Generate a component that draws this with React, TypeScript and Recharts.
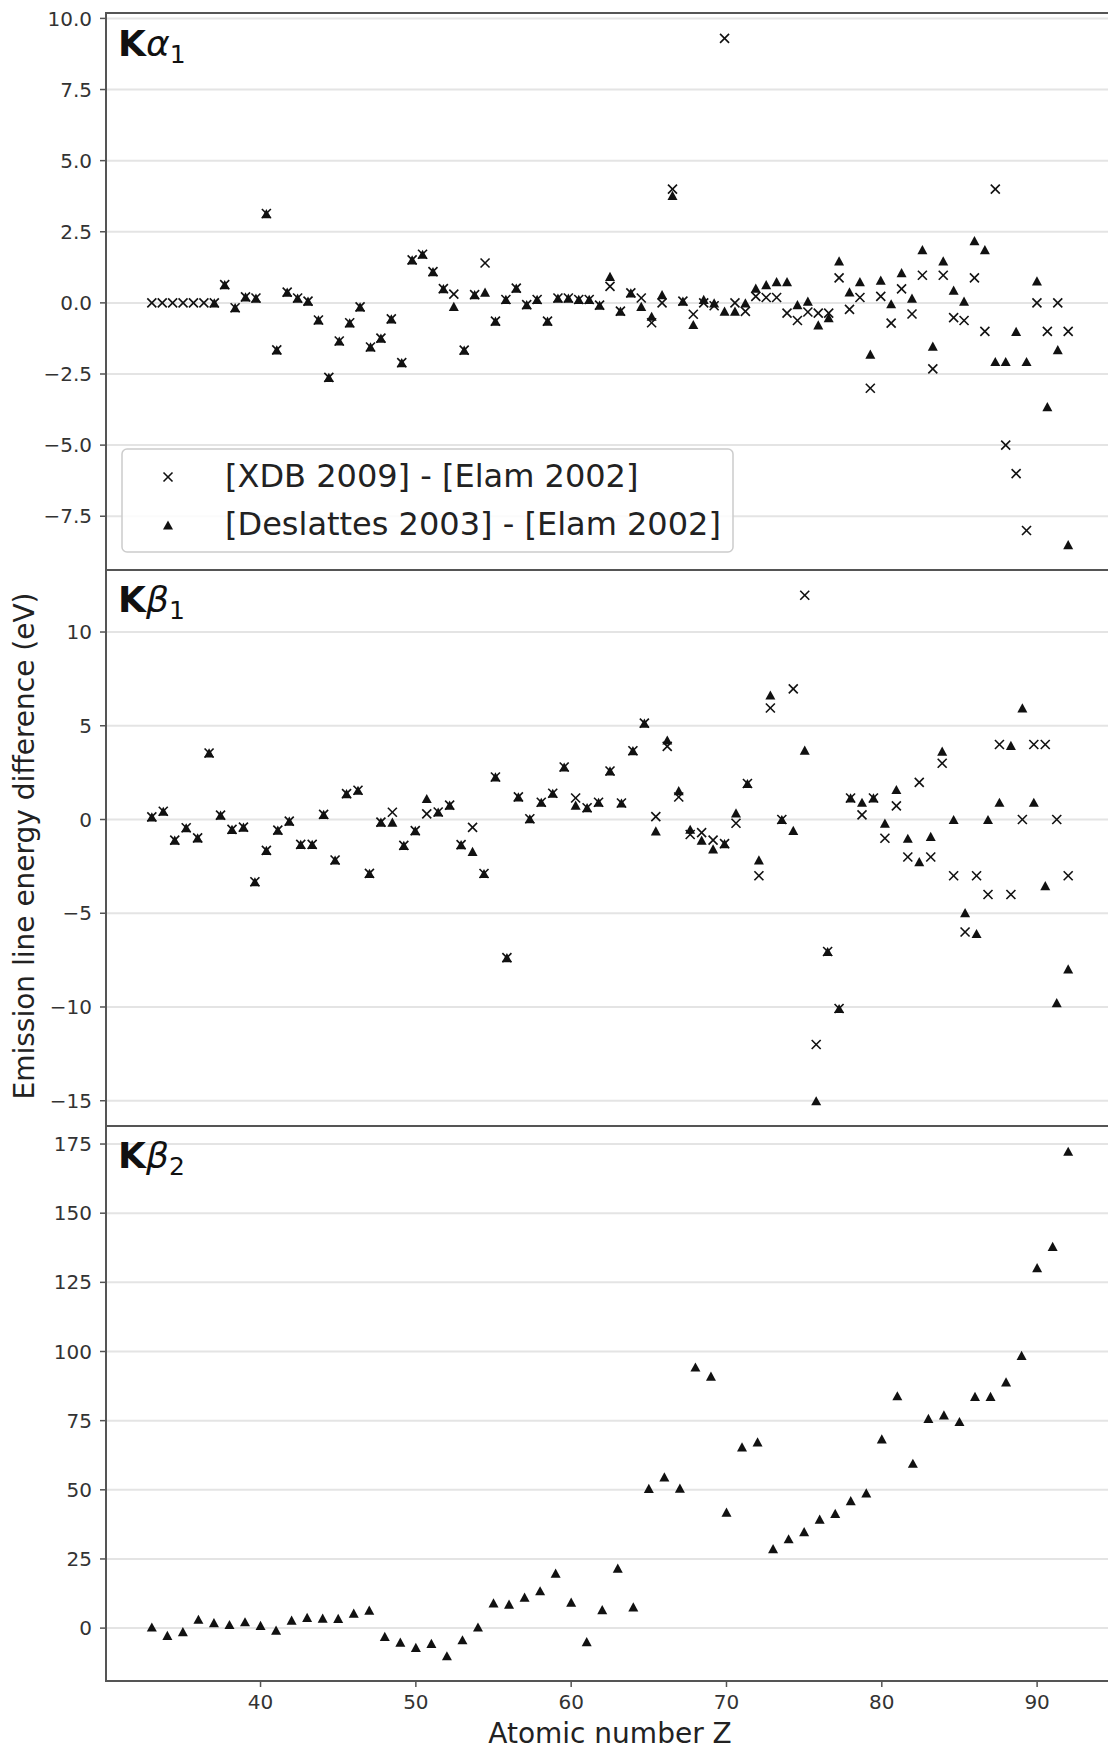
import React from 'react';
import { ScatterChart, Scatter, XAxis, YAxis, CartesianGrid } from 'recharts';

const FONT = "'DejaVu Sans', Verdana, sans-serif";
const INK = '#111111';
const SPINE = '#555555';
const GRID = '#e4e4e4';
const TICK_TEXT = '#333333';

// ---------- K alpha 1 ----------
const ka1XdbZ = [4, 5, 6, 7, 8, 9, 10, 11, 12, 13, 14, 15, 16, 17, 18, 19, 20, 21, 22, 23, 24, 25, 26, 27, 28, 29, 30, 31, 32, 33, 34, 35, 36, 37, 38, 39, 40, 41, 42, 43, 44, 45, 46, 47, 48, 49, 50, 51, 52, 53, 54, 55, 56, 57, 58, 59, 60, 61, 62, 63, 64, 65, 66, 67, 68, 69, 70, 71, 72, 73, 74, 75, 76, 77, 78, 79, 80, 81, 82, 83, 84, 85, 86, 87, 88, 89, 90, 91, 92];
const ka1XdbDiff = [0, 0, 0, 0, 0, 0, 0, 0.64, -0.17, 0.21, 0.17, 3.14, -1.65, 0.38, 0.17, 0.06, -0.6, -2.62, -1.34, -0.7, -0.14, -1.55, -1.24, -0.56, -2.1, 1.51, 1.71, 1.1, 0.5, 0.31, -1.66, 0.29, 1.4, -0.64, 0.12, 0.52, -0.06, 0.12, -0.64, 0.17, 0.17, 0.12, 0.12, -0.08, 0.58, -0.29, 0.35, 0.17, -0.7, 0.0, 4.0, 0.06, -0.4, 0.0, -0.1, 9.3, 0.0, -0.3, 0.23, 0.19, 0.19, -0.36, -0.62, -0.32, -0.36, -0.36, 0.88, -0.23, 0.19, -3.0, 0.23, -0.71, 0.49, -0.39, 0.97, -2.32, 0.97, -0.52, -0.62, 0.88, -1.0, 4.0, -5.0, -6.0, -8.0, 0.0, -1.0, 0.0, -1.0];
const ka1DesZ = [10, 11, 12, 13, 14, 15, 16, 17, 18, 19, 20, 21, 22, 23, 24, 25, 26, 27, 28, 29, 30, 31, 32, 33, 34, 35, 36, 37, 38, 39, 40, 41, 42, 43, 44, 45, 46, 47, 48, 49, 50, 51, 52, 53, 54, 55, 56, 57, 58, 59, 60, 61, 62, 63, 64, 65, 66, 67, 68, 69, 70, 71, 72, 73, 74, 75, 76, 77, 78, 79, 80, 81, 82, 83, 84, 85, 86, 87, 88, 89, 90, 91, 92];
const ka1DesDiff = [0, 0.64, -0.17, 0.21, 0.17, 3.14, -1.65, 0.38, 0.17, 0.06, -0.6, -2.62, -1.34, -0.7, -0.14, -1.55, -1.24, -0.56, -2.1, 1.51, 1.71, 1.1, 0.5, -0.12, -1.66, 0.29, 0.38, -0.64, 0.12, 0.52, -0.06, 0.12, -0.64, 0.17, 0.17, 0.12, 0.12, -0.08, 0.93, -0.29, 0.35, -0.12, -0.47, 0.29, 3.78, 0.06, -0.76, 0.12, 0.0, -0.29, -0.29, 0.0, 0.52, 0.64, 0.75, 0.75, -0.06, 0.06, -0.77, -0.52, 1.48, 0.39, 0.75, -1.8, 0.8, -0.03, 1.06, 0.17, 1.87, -1.52, 1.48, 0.45, 0.06, 2.19, 1.87, -2.06, -2.06, -1.0, -2.06, 0.77, -3.65, -1.64, -8.5];
const ka1Ticks = [-7.5, -5, -2.5, 0, 2.5, 5, 7.5, 10];

// ---------- K beta 1 ----------
const kb1Z = [12, 13, 14, 15, 16, 17, 18, 19, 20, 21, 22, 23, 24, 25, 26, 27, 28, 29, 30, 31, 32, 33, 34, 35, 36, 37, 38, 39, 40, 41, 42, 43, 44, 45, 46, 47, 48, 49, 50, 51, 52, 53, 54, 55, 56, 57, 58, 59, 60, 61, 62, 63, 64, 65, 66, 67, 68, 69, 70, 71, 72, 73, 74, 75, 76, 77, 78, 79, 80, 81, 82, 83, 84, 85, 86, 87, 88, 89, 90, 91, 92];
const kb1XdbDiff = [0.14, 0.44, -1.1, -0.44, -0.98, 3.55, 0.23, -0.53, -0.41, -3.32, -1.65, -0.57, -0.09, -1.33, -1.33, 0.27, -2.16, 1.38, 1.56, -2.87, -0.14, 0.39, -1.38, -0.59, 0.3, 0.4, 0.77, -1.34, -0.42, -2.88, 2.27, -7.37, 1.21, 0.04, 0.92, 1.4, 2.8, 1.15, 0.63, 0.92, 2.59, 0.88, 3.67, 5.14, 0.15, 3.9, 1.2, -0.8, -0.7, -1.1, -1.29, -0.2, 1.92, -3.0, 5.95, 0.0, 6.97, 11.96, -12.0, -7.04, -10.08, 1.15, 0.25, 1.15, -1.0, 0.73, -2.0, 1.98, -2.0, 3.0, -3.0, -6.0, -3.0, -4.0, 4.0, -4.0, 0.0, 4.0, 4.0, 0.0, -3.0];
const kb1DesDiff = [0.14, 0.44, -1.1, -0.44, -0.98, 3.55, 0.23, -0.53, -0.41, -3.32, -1.65, -0.57, -0.09, -1.33, -1.33, 0.27, -2.16, 1.38, 1.56, -2.87, -0.14, -0.14, -1.38, -0.59, 1.12, 0.4, 0.77, -1.34, -1.7, -2.88, 2.27, -7.37, 1.21, 0.04, 0.92, 1.4, 2.8, 0.77, 0.63, 0.92, 2.59, 0.88, 3.67, 5.14, -0.61, 4.24, 1.54, -0.52, -1.1, -1.57, -1.29, 0.35, 1.92, -2.15, 6.64, 0.0, -0.58, 3.7, -15.0, -7.04, -10.08, 1.15, 0.92, 1.15, -0.19, 1.6, -1.0, -2.25, -0.9, 3.65, 0.0, -4.97, -6.08, 0.0, 0.92, 3.95, 5.95, 0.92, -3.53, -9.77, -7.97];
const kb1Ticks = [-15, -10, -5, 0, 5, 10];

// ---------- K beta 2 ----------
const kb2Z = [33, 34, 35, 36, 37, 38, 39, 40, 41, 42, 43, 44, 45, 46, 47, 48, 49, 50, 51, 52, 53, 54, 55, 56, 57, 58, 59, 60, 61, 62, 63, 64, 65, 66, 67, 68, 69, 70, 71, 72, 73, 74, 75, 76, 77, 78, 79, 80, 81, 82, 83, 84, 85, 86, 87, 88, 89, 90, 91, 92];
const kb2DesDiff = [0.4, -2.6, -1.3, 3.2, 2.0, 1.3, 2.3, 1.0, -0.7, 2.9, 3.9, 3.6, 3.5, 5.4, 6.5, -3.0, -5.1, -7.0, -5.5, -10.0, -4.2, 0.4, 9.1, 8.7, 11.2, 13.5, 19.9, 9.4, -4.9, 6.7, 21.7, 7.7, 50.5, 54.7, 50.6, 94.4, 91.1, 41.9, 65.5, 67.3, 28.7, 32.3, 34.9, 39.4, 41.5, 46.1, 48.9, 68.4, 84.0, 59.6, 75.8, 77.1, 74.7, 83.8, 83.8, 89.0, 98.6, 130.3, 138.0, 172.4];
const kb2Ticks = [0, 25, 50, 75, 100, 125, 150, 175];

const zTicks = [40, 50, 60, 70, 80, 90];

const seriesXdb = '[XDB 2009] - [Elam 2002]';
const seriesDes = '[Deslattes 2003] - [Elam 2002]';

// ---------- helpers ----------
function pad(values: number[]): [number, number] {
  const lo = Math.min(...values);
  const hi = Math.max(...values);
  const m = (hi - lo) * 0.05;
  return [lo - m, hi + m];
}
const toPts = (zs: number[], vs: number[]) => zs.map((z, i) => ({ z, v: vs[i] }));
const fmt1 = (v: number) => (v < 0 ? '\u2212' : '') + Math.abs(v).toFixed(1);
const fmt0 = (v: number) => (v < 0 ? '\u2212' : '') + String(Math.abs(v));

const XMark = (p: any) => {
  const { cx, cy } = p;
  if (cx == null || cy == null) return null;
  const r = 4.5;
  return (
    <g>
      <line x1={cx - r} y1={cy - r} x2={cx + r} y2={cy + r} stroke={INK} strokeWidth={1.6} />
      <line x1={cx - r} y1={cy + r} x2={cx + r} y2={cy - r} stroke={INK} strokeWidth={1.6} />
    </g>
  );
};
const TriMark = (p: any) => {
  const { cx, cy } = p;
  if (cx == null || cy == null) return null;
  const w = 5;
  const h = 4.6;
  return <path d={`M${cx},${cy - h} L${cx + w},${cy + h} L${cx - w},${cy + h} Z`} fill={INK} />;
};

const CHART_W = 1118;
const AXIS_W = 106;
const X_AXIS_H = 70;

type Series = { name: string; data: { z: number; v: number }[]; kind: 'x' | 'tri' };

function Panel(props: {
  top: number;
  padTop: number;
  plotH: number;
  xDomain: [number, number];
  yDomain: [number, number];
  yTicks: number[];
  fmt: (v: number) => string;
  series: Series[];
  showX: boolean;
}) {
  const { top, padTop, plotH, xDomain, yDomain, yTicks, fmt, series, showX } = props;
  const h = padTop + plotH + (showX ? X_AXIS_H : 0);
  const tickStyle = { fontSize: 20, fill: TICK_TEXT, fontFamily: FONT };
  return (
    <div style={{ position: 'absolute', left: 0, top: top - padTop, width: CHART_W, height: h }}>
      <ScatterChart width={CHART_W} height={h} margin={{ top: padTop, right: 4, bottom: 0, left: 0 }}>
        <CartesianGrid horizontal vertical={false} stroke={GRID} strokeWidth={2} />
        <XAxis
          type="number"
          dataKey="z"
          domain={xDomain}
          allowDataOverflow
          hide={!showX}
          ticks={zTicks}
          interval={0}
          height={X_AXIS_H}
          tickSize={6}
          tickMargin={8}
          tick={tickStyle}
          axisLine={false}
          tickLine={{ stroke: SPINE, strokeWidth: 1.5 }}
        />
        <YAxis
          type="number"
          dataKey="v"
          domain={yDomain}
          allowDataOverflow
          ticks={yTicks}
          interval={0}
          width={AXIS_W}
          tickSize={6}
          tickMargin={8}
          tickFormatter={fmt}
          tick={tickStyle}
          axisLine={false}
          tickLine={{ stroke: SPINE, strokeWidth: 1.5 }}
        />
        {series.map((s) => (
          <Scatter
            key={s.name}
            name={s.name}
            data={s.data}
            isAnimationActive={false}
            shape={(sp: any) => (s.kind === 'x' ? <XMark {...sp} /> : <TriMark {...sp} />)}
          />
        ))}
      </ScatterChart>
      <div
        style={{
          position: 'absolute',
          left: AXIS_W - 1,
          top: padTop - 1,
          width: 1114 - AXIS_W + 2,
          height: plotH + 2,
          border: `2px solid ${SPINE}`,
          boxSizing: 'border-box',
          pointerEvents: 'none',
        }}
      />
    </div>
  );
}

const PanelLabel = ({ y, greek, sub }: { y: number; greek: string; sub: string }) => (
  <text x={118} y={y} fontSize={36} fontFamily={FONT} fill={INK}>
    <tspan fontWeight="bold">K</tspan>
    <tspan fontStyle="italic">{greek}</tspan>
    <tspan fontSize={25} dy={7}>{sub}</tspan>
  </text>
);

export default function App() {
  const ka1Series: Series[] = [
    { name: seriesXdb, data: toPts(ka1XdbZ, ka1XdbDiff), kind: 'x' },
    { name: seriesDes, data: toPts(ka1DesZ, ka1DesDiff), kind: 'tri' },
  ];
  const kb1Series: Series[] = [
    { name: seriesXdb, data: toPts(kb1Z, kb1XdbDiff), kind: 'x' },
    { name: seriesDes, data: toPts(kb1Z, kb1DesDiff), kind: 'tri' },
  ];
  const kb2Series: Series[] = [{ name: seriesDes, data: toPts(kb2Z, kb2DesDiff), kind: 'tri' }];

  return (
    <div
      style={{
        position: 'absolute',
        left: 0,
        top: 0,
        width: 1108,
        height: 1751,
        overflow: 'hidden',
        background: '#ffffff',
        fontFamily: FONT,
      }}
    >
      <Panel
        top={13}
        padTop={13}
        plotH={557}
        xDomain={pad([...ka1XdbZ, ...ka1DesZ])}
        yDomain={pad([...ka1XdbDiff, ...ka1DesDiff])}
        yTicks={ka1Ticks}
        fmt={fmt1}
        series={ka1Series}
        showX={false}
      />
      <Panel
        top={570}
        padTop={0}
        plotH={556}
        xDomain={pad(kb1Z)}
        yDomain={pad([...kb1XdbDiff, ...kb1DesDiff])}
        yTicks={kb1Ticks}
        fmt={fmt0}
        series={kb1Series}
        showX={false}
      />
      <Panel
        top={1126}
        padTop={0}
        plotH={555}
        xDomain={pad(kb2Z)}
        yDomain={pad(kb2DesDiff)}
        yTicks={kb2Ticks}
        fmt={fmt0}
        series={kb2Series}
        showX={true}
      />
      <svg
        width={1108}
        height={1751}
        style={{ position: 'absolute', left: 0, top: 0, pointerEvents: 'none' }}
      >
        <PanelLabel y={56} greek="α" sub="1" />
        <PanelLabel y={612} greek="β" sub="1" />
        <PanelLabel y={1168} greek="β" sub="2" />

        <g>
          <rect x={122} y={449} width={611} height={103} rx={5} fill="#ffffff" fillOpacity={0.85} stroke="#cccccc" strokeWidth={1.5} />
          <XMark cx={168} cy={477} />
          <TriMark cx={168} cy={525} />
          <text x={225} y={487} fontSize={32} fontFamily={FONT} fill="#222222">{seriesXdb}</text>
          <text x={225} y={535} fontSize={32} fontFamily={FONT} fill="#222222">{seriesDes}</text>
        </g>

        <text
          transform="translate(34, 846) rotate(-90)"
          textAnchor="middle"
          fontSize={28}
          fontFamily={FONT}
          fill="#222222"
        >
          Emission line energy difference (eV)
        </text>
        <text x={610} y={1743} textAnchor="middle" fontSize={28} fontFamily={FONT} fill="#222222">
          Atomic number Z
        </text>
      </svg>
    </div>
  );
}
